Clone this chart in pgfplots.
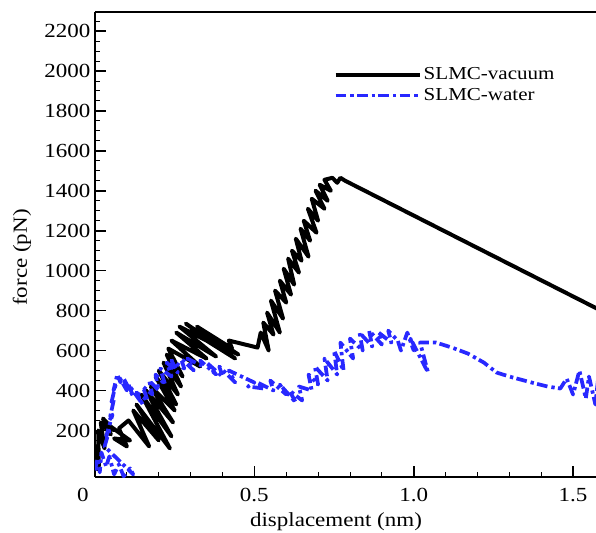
\documentclass[border=0pt]{standalone}
\usepackage{fontspec}
\setmainfont{Liberation Serif}[FakeStretch=1.15]
\usepackage{pgfplots}
\pgfplotsset{compat=1.18}
\definecolor{waterblue}{RGB}{40,40,255}

\begin{document}
\begin{tikzpicture}
\begin{axis}[
  scale only axis,
  width=375.75pt, height=348.75pt,
  xmin=0, xmax=1.572, ymin=-33, ymax=2295,
  axis lines*=left,
  axis line style={line width=1.8pt},
  tick align=inside,
  major tick length=8pt, minor tick length=4pt,
  every tick/.style={black, line width=1.2pt},
  every minor tick/.style={black, line width=0.6pt},
  xtick={0,0.5,1,1.5},
  xticklabels={{0\kern18pt},0.5,1.0,1.5},
  minor xtick={0.1,0.2,...,1.55},
  ytick={200,400,...,2200},
  minor ytick={0,50,...,2250},
  /pgf/number format/1000 sep={},
  /pgf/number format/assume math mode=true,
  tick label style={font=\fontsize{15}{16}\selectfont},
  xticklabel style={yshift=-5pt},
  label style={font=\fontsize{15}{16}\selectfont},
  xlabel={displacement (nm)},
  ylabel={force (pN)},
  xlabel style={at={(ticklabel cs:0.481)}, yshift=-1pt},
  ylabel style={at={(ticklabel cs:0.472)}, yshift=3pt},
  legend cell align=left,
  legend image code/.code={\draw[#1] (0pt,0pt) -- (63pt,0pt);},
  legend style={draw=none, fill=none, at={(0.468,0.891)}, anchor=north west,
    font=\fontsize{13.7}{14}\selectfont, row sep=2pt,
    nodes={inner sep=1.5pt}},
]
\addplot[black, line width=3pt, line join=round] coordinates {
(0.000,0)(0.004,120)(0.012,20)(0.010,200)(0.030,110)(0.018,240)(0.050,180)
(0.025,260)(0.060,200)(0.040,230)(0.110,150)(0.060,160)(0.100,120)(0.075,210)
(0.105,250)(0.170,120)(0.120,300)(0.200,150)(0.130,330)(0.235,110)(0.145,380)
(0.240,170)(0.160,400)(0.245,240)(0.175,420)(0.250,300)(0.190,470)(0.255,330)
(0.200,500)(0.260,380)(0.215,540)(0.270,420)(0.225,580)(0.275,470)(0.230,610)
(0.330,520)(0.240,650)(0.350,560)(0.255,690)(0.380,570)(0.265,720)(0.410,600)
(0.285,735)(0.440,560)(0.300,700)(0.450,580)(0.320,720)(0.430,610)(0.420,650)
(0.510,615)(0.520,690)(0.545,600)(0.528,740)(0.560,680)(0.540,790)(0.580,690)
(0.552,850)(0.590,760)(0.565,900)(0.600,840)(0.580,950)(0.615,880)(0.592,1010)
(0.625,930)(0.606,1060)(0.640,990)(0.618,1100)(0.648,1050)(0.630,1160)
(0.670,1070)(0.645,1210)(0.675,1150)(0.655,1250)(0.695,1190)(0.668,1310)
(0.700,1250)(0.680,1360)(0.720,1310)(0.692,1400)(0.730,1350)(0.705,1430)
(0.740,1400)(0.720,1455)(0.745,1465)(0.760,1440)(0.770,1465)(0.785,1450)(1.600,790)
};
\addlegendentry{SLMC-vacuum}
\addplot[waterblue, line width=2.8pt, line join=round, dash pattern=on 8pt off 3pt on 2.5pt off 2.5pt] coordinates {
(0.000,0)(0.008,60)(0.015,-10)(0.020,90)(0.035,20)(0.045,70)(0.060,-20)
(0.075,30)(0.090,-30)(0.110,10)(0.120,-20)
(0.030,120)(0.045,200)(0.035,170)(0.055,280)(0.045,250)(0.060,360)(0.050,330)
(0.065,430)(0.058,400)(0.070,480)
(0.080,440)(0.075,470)(0.100,400)(0.090,460)(0.120,370)(0.105,430)(0.150,330)
(0.130,390)(0.165,350)(0.150,420)(0.180,380)(0.170,450)(0.200,400)(0.190,480)
(0.220,430)(0.205,510)(0.240,470)(0.225,540)(0.260,490)(0.240,550)(0.280,510)
(0.270,560)(0.310,500)(0.290,560)(0.340,520)(0.330,550)(0.380,480)(0.350,540)
(0.400,470)(0.390,520)(0.440,440)(0.420,500)(0.460,470)(0.500,440)(0.480,420)
(0.530,410)(0.510,440)(0.560,400)(0.550,450)(0.600,380)(0.580,430)(0.630,340)
(0.610,400)(0.650,350)(0.640,420)(0.680,400)(0.670,480)(0.700,430)(0.690,520)
(0.730,450)(0.720,560)(0.760,480)(0.750,600)(0.780,500)(0.770,640)(0.810,560)
(0.800,660)(0.840,600)(0.830,690)(0.870,620)(0.860,700)(0.900,630)(0.890,690)
(0.930,640)(0.920,700)(0.950,650)(0.960,600)(0.980,690)(1.000,600)(0.990,660)
(1.045,490)(1.020,640)(1.070,640)(1.120,615)(1.170,585)(1.220,540)(1.260,490)
(1.300,470)(1.370,440)(1.420,420)(1.460,410)(1.480,460)(1.500,380)(1.520,500)
(1.540,360)(1.550,470)(1.570,330)(1.580,480)(1.600,400)
};
\addlegendentry{SLMC-water}
\draw[line width=1.8pt] (rel axis cs:0,1) -- (rel axis cs:1,1);
\coordinate (SW) at (rel axis cs:0,0);
\coordinate (NE) at (rel axis cs:1,1);
\end{axis}
\pgfresetboundingbox
\path[use as bounding box] ([xshift=-71.25pt,yshift=-41.25pt]SW) rectangle ([yshift=9pt]NE);
\end{tikzpicture}
\end{document}
